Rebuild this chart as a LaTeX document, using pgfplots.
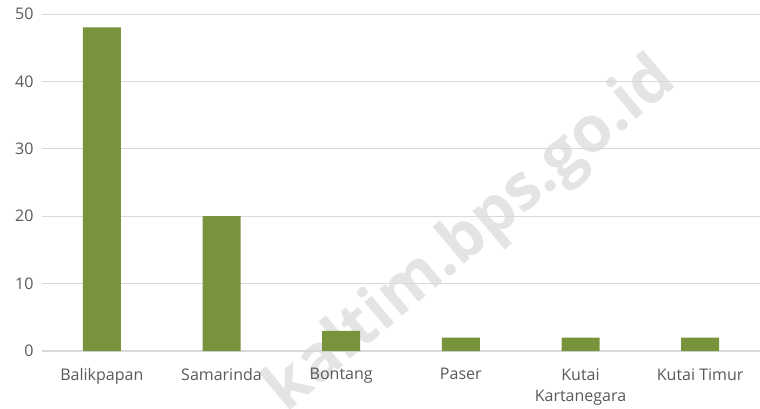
\documentclass[border=0pt]{standalone}
\usepackage{pgfplots}
\pgfplotsset{compat=1.18}
\usepackage{fontspec}
\setmainfont{Open Sans}
\definecolor{bargreen}{HTML}{77933C}
\definecolor{gridgray}{HTML}{D9D9D9}
\definecolor{labelgray}{HTML}{595959}
\definecolor{wm}{HTML}{E4E4E4}
\begin{document}
\begin{tikzpicture}[x=1pt,y=1pt]
\node[rotate=40, text=wm, font=\fontsize{64}{64}\selectfont\bfseries] at (472pt,172pt) {kaltim.bps.go.id};
\begin{axis}[
  at={(42pt,57pt)}, anchor=south west,
  scale only axis, width=718pt, height=337pt,
  ymin=0, ymax=50, ytick={0,10,20,30,40,50},
  xmin=-0.5, xmax=5.5,
  xtick={0,1,2,3,4,5},
  xticklabels={Balikpapan,Samarinda,Bontang,Paser,{Kutai\\Kartanegara},Kutai Timur},
  xticklabel style={align=center, font=\fontsize{16}{21}\selectfont, text=labelgray, yshift=-14pt},
  yticklabel style={font=\fontsize{16}{18}\selectfont, text=labelgray, xshift=-5pt},
  /pgf/number format/assume math mode=true,
  axis line style={draw=none},
  major tick length=0pt,
  ymajorgrids, grid style={gridgray, line width=1pt},
  extra y ticks={0}, extra y tick labels={},
  extra y tick style={grid style={gridgray, line width=1.2pt}},
  ybar, bar width=38pt,
  clip=false,
]
\addplot[fill=bargreen, draw=none] coordinates {(0,48) (1,20) (2,3) (3,2) (4,2) (5,2)};
\end{axis}
\pgfresetboundingbox
\path (0,0) rectangle (760pt,408pt);
\end{tikzpicture}
\end{document}
